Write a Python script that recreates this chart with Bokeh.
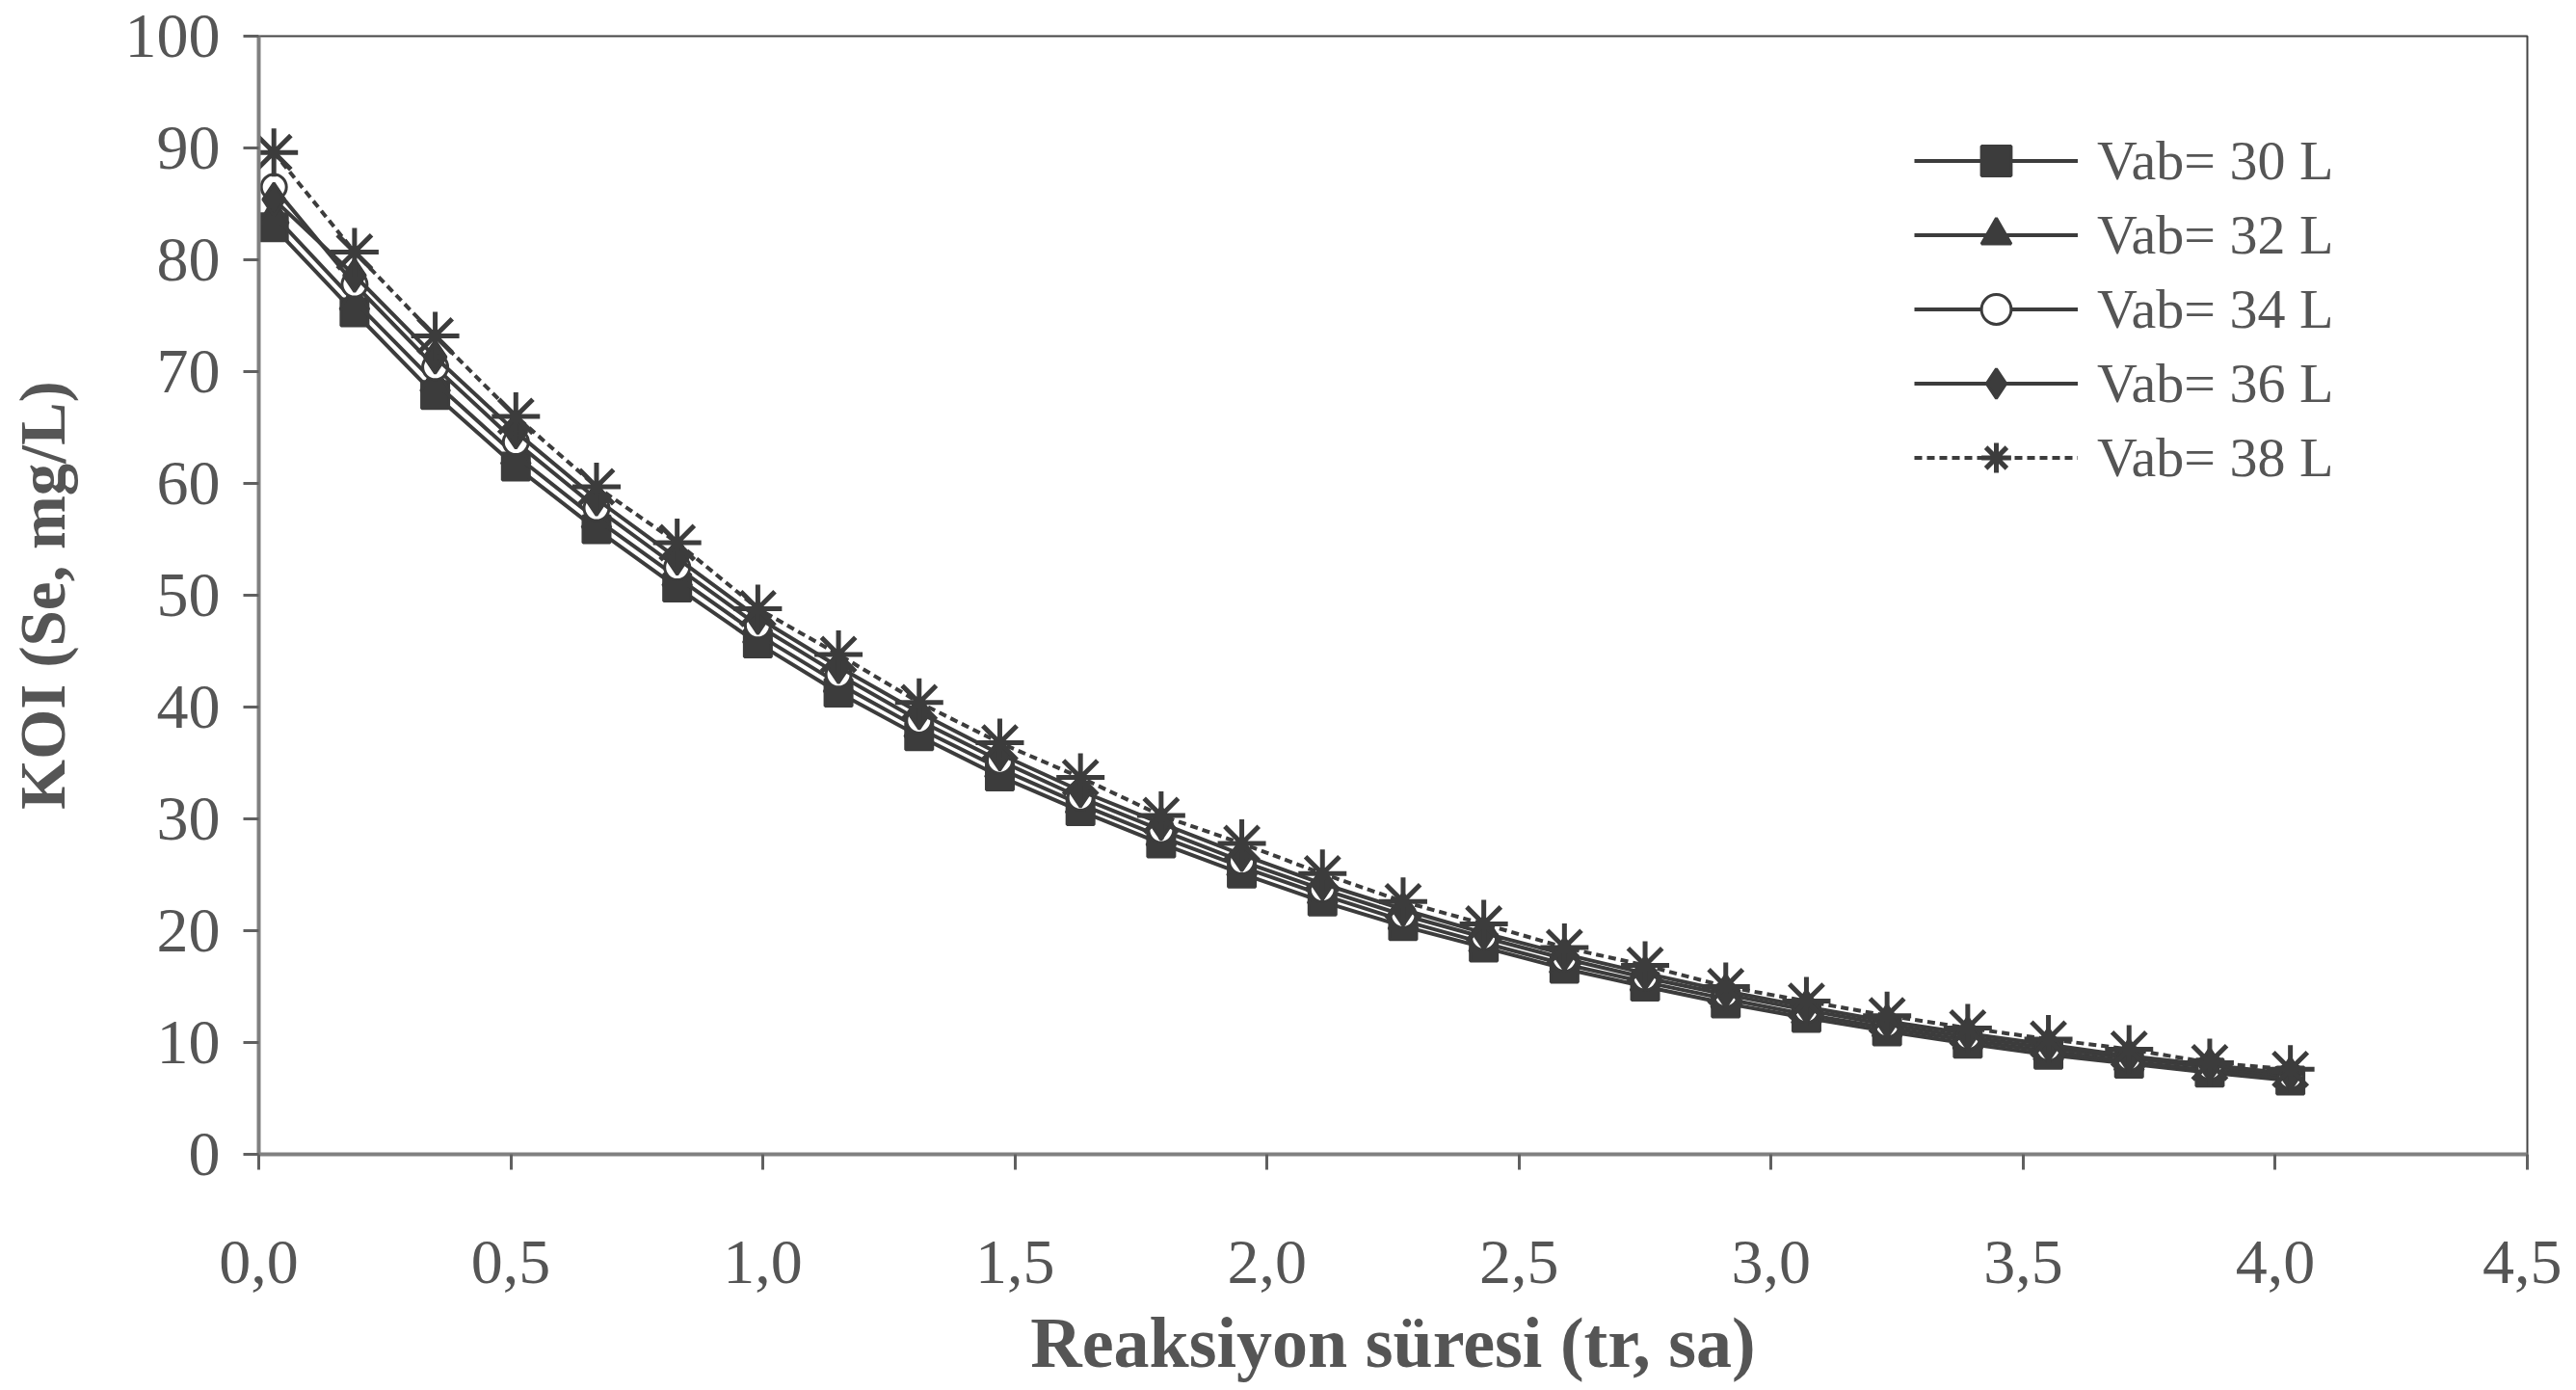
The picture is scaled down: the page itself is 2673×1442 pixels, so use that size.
from bokeh.plotting import figure
from bokeh.models import Range1d, FixedTicker, CustomJSTickFormatter, Legend, LegendItem
from bokeh.embed import file_html
from bokeh.resources import INLINE

# ---- data ----
time_h = [0.03, 0.19, 0.35, 0.51, 0.67, 0.83, 0.99, 1.15, 1.31, 1.47, 1.63, 1.79, 1.95,
          2.11, 2.27, 2.43, 2.59, 2.75, 2.91, 3.07, 3.23, 3.39, 3.55, 3.71, 3.87, 4.03]

koi_30 = [82.9, 75.3, 67.9, 61.5, 55.9, 50.7, 45.7, 41.3, 37.4, 33.8, 30.7, 27.8, 25.1,
          22.6, 20.4, 18.5, 16.6, 15.0, 13.5, 12.2, 11.0, 9.9, 8.9, 8.1, 7.3, 6.6]
koi_32 = [84.0, 76.3, 69.0, 62.5, 56.8, 51.6, 46.5, 42.1, 38.1, 34.5, 31.3, 28.4, 25.7,
          23.2, 20.9, 18.9, 17.0, 15.4, 13.9, 12.5, 11.3, 10.2, 9.2, 8.3, 7.5, 6.8]
koi_34 = [86.5, 77.8, 70.4, 63.7, 57.8, 52.5, 47.3, 42.9, 38.8, 35.2, 31.9, 29.0, 26.2,
          23.7, 21.4, 19.4, 17.5, 15.8, 14.3, 12.9, 11.6, 10.5, 9.5, 8.6, 7.8, 7.0]
koi_36 = [85.4, 78.6, 71.3, 64.6, 58.6, 53.3, 48.0, 43.6, 39.5, 35.8, 32.5, 29.6, 26.8,
          24.2, 21.9, 19.8, 17.9, 16.2, 14.6, 13.2, 11.9, 10.8, 9.8, 8.8, 8.0, 7.2]
koi_38 = [89.6, 80.7, 73.2, 66.0, 59.7, 54.7, 48.8, 44.7, 40.4, 36.8, 33.7, 30.3, 27.8,
          25.1, 22.6, 20.6, 18.5, 16.9, 15.0, 13.7, 12.4, 11.3, 10.3, 9.4, 8.2, 7.6]

labels = ["Vab= 30 L", "Vab= 32 L", "Vab= 34 L", "Vab= 36 L", "Vab= 38 L"]
x_ticks = [0.0, 0.5, 1.0, 1.5, 2.0, 2.5, 3.0, 3.5, 4.0, 4.5]
y_ticks = [0, 10, 20, 30, 40, 50, 60, 70, 80, 90, 100]

# ---- styles ----
INK = "#3c3c3c"
TXT = "#555555"
SERIF = "Liberation Serif"

W, H = 2658, 1442
p = figure(width=W, height=H, output_backend="svg", toolbar_location=None,
           x_range=Range1d(0, 4.5), y_range=Range1d(0, 100),
           min_border_left=268, min_border_right=36, min_border_top=37, min_border_bottom=245)
p.background_fill_color = "white"
p.border_fill_color = "white"
p.xgrid.visible = False
p.ygrid.visible = False
p.outline_line_color = "#444444"
p.outline_line_width = 2

for ax in (p.xaxis[0], p.yaxis[0]):
    ax.axis_line_color = "#808080"
    ax.axis_line_width = 4
    ax.major_tick_line_color = "#606060"
    ax.major_tick_line_width = 3
    ax.major_tick_in = 0
    ax.major_tick_out = 16
    ax.minor_tick_line_color = None
    ax.major_label_text_font = SERIF
    ax.major_label_text_font_size = "66px"
    ax.major_label_text_color = TXT
    ax.axis_label_text_font = SERIF
    ax.axis_label_text_font_style = "bold"
    ax.axis_label_text_color = TXT

p.xaxis.axis_label_text_font_size = "74px"
p.yaxis.axis_label_text_font_size = "67px"
p.xaxis.ticker = FixedTicker(ticks=x_ticks)
p.yaxis.ticker = FixedTicker(ticks=y_ticks)
p.xaxis.formatter = CustomJSTickFormatter(code="return tick.toFixed(1).replace('.', ',');")
p.xaxis.major_label_standoff = 74
p.yaxis.major_label_standoff = 24
p.xaxis.axis_label = "Reaksiyon süresi (tr, sa)"
p.yaxis.axis_label = "KOI (Se, mg/L)"
p.xaxis.axis_label_standoff = 18
p.yaxis.axis_label_standoff = 46

series = [koi_30, koi_32, koi_34, koi_36, koi_38]
markers = ["square", "triangle", "circle", "diamond", "asterisk"]
sizes = [28, 30, 26, 34, 50]
fills = [INK, INK, "white", INK, INK]
dashes = ["solid", "solid", "solid", "solid", "8 5"]

items = []
for ys, lab, mk, sz, fc, dash in zip(series, labels, markers, sizes, fills, dashes):
    ln = p.line(time_h, ys, line_color=INK, line_width=4, line_dash=dash)
    sc = p.scatter(time_h, ys, marker=mk, size=sz, fill_color=fc, line_color=INK,
                   line_width=5 if mk == "asterisk" else 3)
    items.append(LegendItem(label=lab, renderers=[ln, sc]))

legend = Legend(items=items, location=(1718, 684))
legend.label_text_font = SERIF
legend.label_text_font_size = "58px"
legend.label_text_color = TXT
legend.glyph_width = 170
legend.glyph_height = 77
legend.label_height = 60
legend.spacing = 0
legend.label_standoff = 20
legend.padding = 0
legend.margin = 0
legend.border_line_color = None
legend.background_fill_alpha = 0
p.add_layout(legend, "center")

open("out.html", "w").write(file_html(p, INLINE))
